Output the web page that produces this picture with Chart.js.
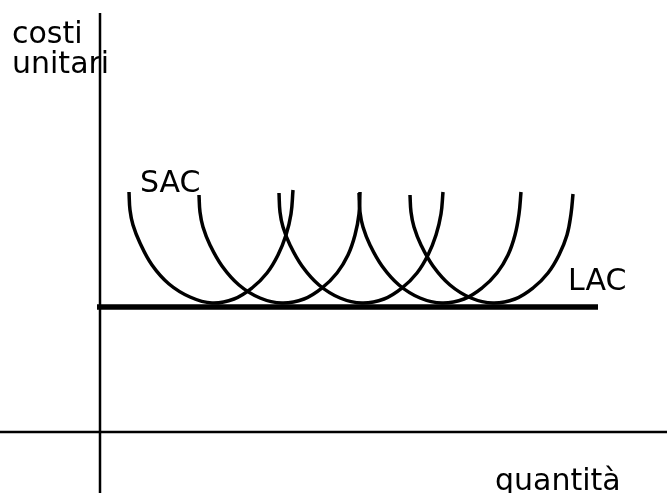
<!DOCTYPE html>
<html>
<head>
<meta charset="utf-8">
<script src="https://cdn.jsdelivr.net/npm/chart.js@4/dist/chart.umd.min.js"></script>
<style>
  html, body { margin: 0; padding: 0; background: #fff; }
  canvas { display: block; }
</style>
</head>
<body>
<canvas id="js-chart-costs" width="667" height="493"></canvas>
<script>
// Short-run average cost curves (quantity, unit cost)
const sac1 = [[29,240],[30,222],[33,207],[40,189],[52,167],[69,148],[90,135],[112,129],[134,133],[152,144],[167,159],[178,177],[186,197],[191,218],[193,242]];
const sac2 = [[99,237],[100,220],[103,205],[110,187],[122,166],[139,147],[160,134],[182,129],[204,133],[222,144],[237,159],[248,177],[255,197],[259,218],[260,240]];
const sac3 = [[179,239],[180,220],[183,205],[190,187],[202,166],[219,147],[240,134],[262,129],[284,133],[302,144],[317,159],[328,177],[336,197],[341,218],[343,240]];
const sac4 = [[259,239],[260,220],[263,205],[270,187],[282,166],[299,147],[320,134],[342,129],[364,133],[382,144],[397,159],[408,177],[415,197],[419,218],[421,240]];
const sac5 = [[310,237],[311,220],[314,205],[321,187],[333,166],[350,147],[371,134],[393,129],[415,133],[433,144],[448,159],[459,177],[467,197],[471,218],[473,238]];

// Long-run average cost (flat) and the two axes
const lac = [[-3,125],[498,125]];
const axisY = [[0,-61],[0,419]];
const axisX = [[-100,0],[567,0]];

// Labels: text, x, y (data units)
const labels = [
  ['costi', -88, 389],
  ['unitari', -88, 359],
  ['SAC', 40, 240],
  ['LAC', 468, 142],
  ['quantità', 395, -58]
];

function toPoints(arr) {
  return arr.map(p => ({x: p[0], y: p[1]}));
}

function line(arr, width, smooth) {
  return {
    data: toPoints(arr),
    borderColor: '#000',
    borderWidth: width,
    pointRadius: 0,
    fill: false,
    tension: smooth ? 0.4 : 0,
    borderCapStyle: 'butt',
    clip: false
  };
}

// Draws the axis titles and curve names as text
const textLabels = {
  id: 'textLabels',
  afterDatasetsDraw(chart) {
    const ctx = chart.ctx;
    const xs = chart.scales.x, ys = chart.scales.y;
    ctx.save();
    ctx.fillStyle = '#000';
    ctx.font = '30px "DejaVu Sans", Verdana, sans-serif';
    ctx.textBaseline = 'alphabetic';
    labels.forEach(l => {
      ctx.fillText(l[0], xs.getPixelForValue(l[1]), ys.getPixelForValue(l[2]));
    });
    ctx.restore();
  }
};

let chartCon = document.getElementById('js-chart-costs');

new Chart(chartCon, {
  type: 'line',
  data: {
    datasets: [
      line(axisY, 2.5, false),
      line(axisX, 2.5, false),
      line(lac, 5.5, false),
      line(sac1, 3.5, true),
      line(sac2, 3.5, true),
      line(sac3, 3.5, true),
      line(sac4, 3.5, true),
      line(sac5, 3.5, true)
    ]
  },
  options: {
    responsive: false,
    animation: false,
    layout: { padding: 0 },
    scales: {
      x: { type: 'linear', min: -100, max: 567, display: false },
      y: { type: 'linear', min: -61, max: 432, display: false }
    },
    plugins: {
      legend: { display: false },
      tooltip: { enabled: false }
    }
  },
  plugins: [textLabels]
});
</script>
</body>
</html>
